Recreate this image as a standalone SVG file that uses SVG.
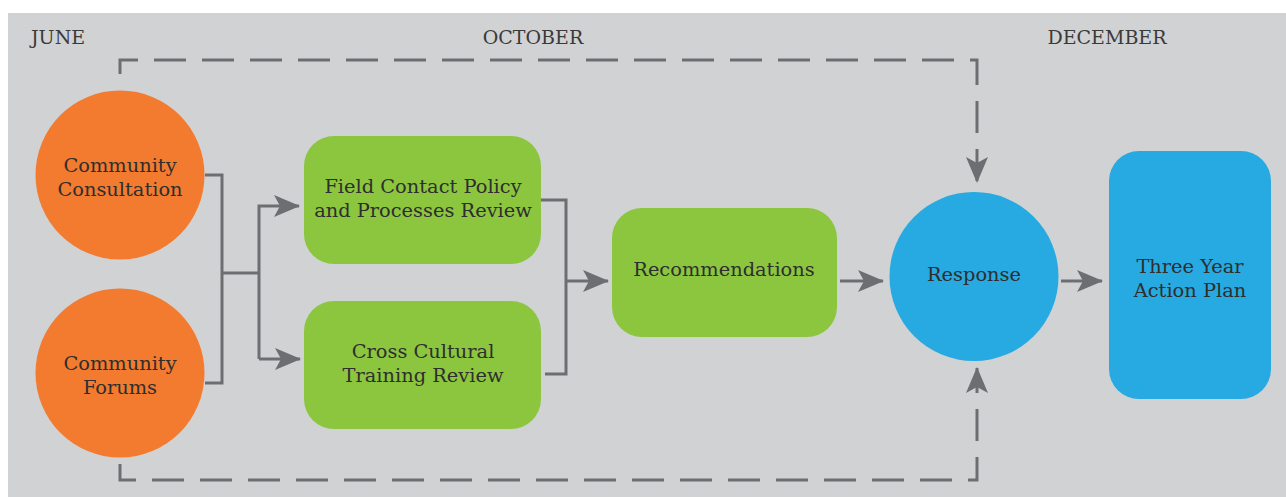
<svg xmlns="http://www.w3.org/2000/svg" width="1286" height="497" viewBox="0 0 1286 497">
<style>
.t{font-family:"DejaVu Serif","Liberation Serif",serif;font-size:19.4px;fill:#2e2e2e;text-anchor:middle}
.m{font-family:"DejaVu Serif","Liberation Serif",serif;font-size:19px;fill:#3a3a3a}
.c{fill:none;stroke:#6d6e71;stroke-width:3}
.d{fill:none;stroke:#6d6e71;stroke-width:3;stroke-dasharray:32 16}
.o{fill:#f37b2f}.g{fill:#8cc63f}.b{fill:#27a9e1}
</style>
<defs>
<marker id="ah" viewBox="0 0 26 22" refX="25" refY="11" markerWidth="26" markerHeight="22" markerUnits="userSpaceOnUse" orient="auto">
<path d="M0,0 L26,11 L0,22 L6,11 Z" fill="#6d6e71"/>
</marker>
</defs>
<rect x="8" y="13" width="1278" height="484" fill="#d1d2d4"/>
<text class="m" x="31" y="44">JUNE</text>
<text class="m" x="533" y="44" text-anchor="middle">OCTOBER</text>
<text class="m" x="1107" y="44" text-anchor="middle">DECEMBER</text>
<g id="connectors">
<path class="c" d="M205,175 H222 V383 H205"/>
<path class="c" d="M222,273 H259"/>
<path class="c" d="M259,359 V206 H299" marker-end="url(#ah)"/>
<path class="c" d="M259,359 H300" marker-end="url(#ah)"/>
<path class="c" d="M541,200 H566 V374 H545"/>
<path class="c" d="M566,281 H608" marker-end="url(#ah)"/>
<path class="c" d="M840,281 H883" marker-end="url(#ah)"/>
<path class="c" d="M1061,281 H1102" marker-end="url(#ah)"/>
<path class="d" d="M120,83 V60 H977 V182" stroke-dashoffset="-9" marker-end="url(#ah)"/>
<path class="d" d="M120,453 V480 H977 V368" stroke-dashoffset="-11" marker-end="url(#ah)"/>
</g>
<g id="consultation">
<circle class="o" cx="120" cy="175" r="84.5"/>
<text class="t" x="120" y="172">Community</text>
<text class="t" x="120" y="196">Consultation</text>
</g>
<g id="forums">
<circle class="o" cx="120" cy="373" r="84.5"/>
<text class="t" x="120" y="370">Community</text>
<text class="t" x="120" y="394">Forums</text>
</g>
<g id="field-contact">
<rect class="g" x="304" y="136" width="237" height="128" rx="30"/>
<text class="t" x="423" y="193">Field Contact Policy</text>
<text class="t" x="423" y="217">and Processes Review</text>
</g>
<g id="cross-cultural">
<rect class="g" x="304" y="301" width="237" height="128" rx="30"/>
<text class="t" x="423" y="358">Cross Cultural</text>
<text class="t" x="423" y="382">Training Review</text>
</g>
<g id="recommendations">
<rect class="g" x="612" y="208" width="225" height="129" rx="30"/>
<text class="t" x="724" y="276">Recommendations</text>
</g>
<g id="response">
<circle class="b" cx="974" cy="276.5" r="84.5"/>
<text class="t" x="974" y="281">Response</text>
</g>
<g id="action-plan">
<rect class="b" x="1109" y="151" width="162" height="248" rx="30"/>
<text class="t" x="1190" y="273">Three Year</text>
<text class="t" x="1190" y="297">Action Plan</text>
</g>
</svg>
